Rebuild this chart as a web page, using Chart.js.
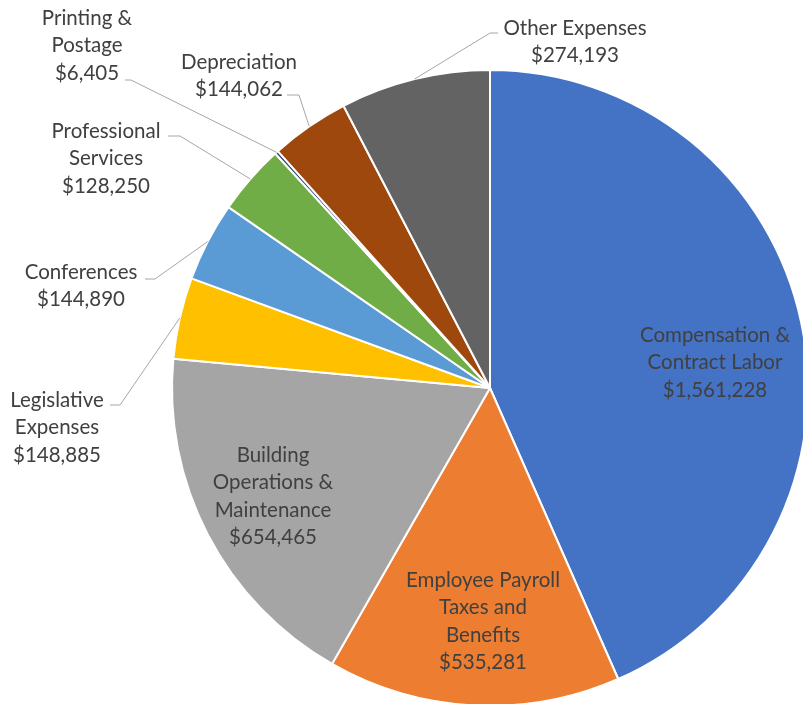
<!DOCTYPE html>
<html>
<head>
<meta charset="utf-8">
<script src="https://cdn.jsdelivr.net/npm/chart.js@4"></script>
<style>
  html, body { margin: 0; padding: 0; background: #fff; overflow: hidden; }
  #wrap { position: absolute; left: 0; top: 0; }
</style>
</head>
<body>
<div id="wrap"><canvas id="expenseChart" width="820" height="720"></canvas></div>
<script>
const categories = [
  "Compensation & Contract Labor",
  "Employee Payroll Taxes and Benefits",
  "Building Operations & Maintenance",
  "Legislative Expenses",
  "Conferences",
  "Professional Services",
  "Printing & Postage",
  "Depreciation",
  "Other Expenses"
];
const values = [1561228, 535281, 654465, 148885, 144890, 128250, 6405, 144062, 274193];
const colors = ["#4472C4", "#ED7D31", "#A5A5A5", "#FFC000", "#5B9BD5", "#70AD47", "#264478", "#9E480E", "#636363"];

// how each label wraps, and where it sits
const labelLines = [
  ["Compensation &", "Contract Labor"],
  ["Employee Payroll", "Taxes and", "Benefits"],
  ["Building", "Operations &", "Maintenance"],
  ["Legislative", "Expenses"],
  ["Conferences"],
  ["Professional", "Services"],
  ["Printing &", "Postage"],
  ["Depreciation"],
  ["Other Expenses"]
];
const labelLayout = [
  { x: 715, y: 335 },
  { x: 483, y: 580 },
  { x: 273, y: 455 },
  { x: 57, y: 400, lx: 110, ly: 405, stub: 10 },
  { x: 81, y: 272, lx: 145, ly: 279, stub: 10 },
  { x: 106, y: 131, lx: 168, ly: 136, stub: 12 },
  { x: 87, y: 18, lx: 125, ly: 80, stub: 6 },
  { x: 239, y: 62, lx: 287, ly: 95, stub: 12 },
  { x: 575, y: 28, lx: 498, ly: 33, stub: -8 }
];

const money = v => "$" + v.toLocaleString("en-US");

const pieLabels = {
  id: "pieLabels",
  afterDatasetsDraw(chart) {
    const ctx = chart.ctx;
    const arcs = chart.getDatasetMeta(0).data;
    ctx.save();
    // leader lines
    ctx.strokeStyle = "#A6A6A6";
    ctx.lineWidth = 1;
    arcs.forEach((arc, i) => {
      const l = labelLayout[i];
      if (l.lx === undefined) return;
      const p = arc.getProps(["x", "y", "startAngle", "endAngle", "outerRadius"], true);
      const mid = (p.startAngle + p.endAngle) / 2;
      const ex = p.x + Math.cos(mid) * p.outerRadius;
      const ey = p.y + Math.sin(mid) * p.outerRadius;
      ctx.beginPath();
      ctx.moveTo(l.lx, l.ly);
      ctx.lineTo(l.lx + l.stub, l.ly);
      ctx.lineTo(ex, ey);
      ctx.stroke();
    });
    // texts
    ctx.font = "20.5px Lato";
    ctx.fillStyle = "#404040";
    ctx.textAlign = "center";
    ctx.textBaseline = "middle";
    categories.forEach((c, i) => {
      const l = labelLayout[i];
      const lines = labelLines[i].concat([money(values[i])]);
      lines.forEach((t, k) => ctx.fillText(t, l.x, l.y + k * 27.6));
    });
    ctx.restore();
  }
};

new Chart(document.getElementById("expenseChart").getContext("2d"), {
  type: "pie",
  data: {
    labels: categories,
    datasets: [{
      data: values,
      backgroundColor: colors,
      borderColor: "#ffffff",
      borderWidth: 2
    }]
  },
  options: {
    responsive: false,
    animation: false,
    layout: { padding: { left: 171, top: 69, right: 11, bottom: 13 } },
    plugins: {
      legend: { display: false },
      tooltip: { enabled: false }
    }
  },
  plugins: [pieLabels]
});
</script>
</body>
</html>
